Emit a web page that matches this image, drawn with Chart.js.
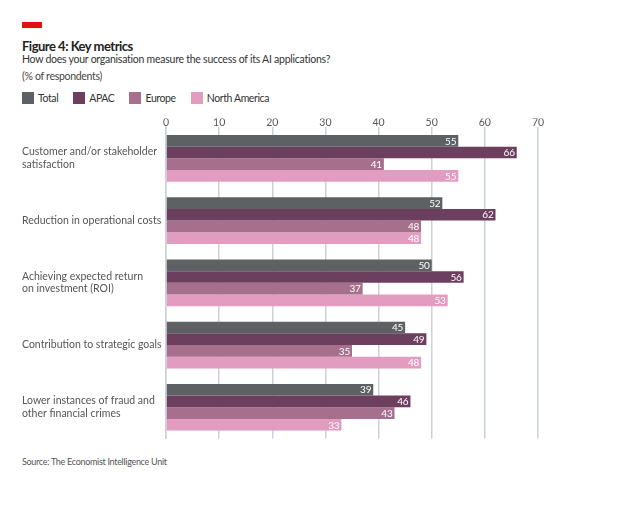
<!DOCTYPE html>
<html>
<head>
<meta charset="utf-8">
<script src="https://cdn.jsdelivr.net/npm/chart.js@4"></script>
<style>
  body { margin: 0; background: #fff; font-family: Lato, "Open Sans", sans-serif; color: #333; }
  #page { position: relative; width: 632px; height: 505px; }
  .redbar { position: absolute; left: 22px; top: 22px; width: 20px; height: 6px; background: #e3120b; }
  .title { position: absolute; left: 22px; top: 38px; font-size: 13px; font-weight: bold; color: #222; letter-spacing: -0.5px; }
  .sub { position: absolute; left: 22px; top: 53px; font-size: 10.5px; color: #333; letter-spacing: -0.25px; }
  .unit { position: absolute; left: 22px; top: 70px; font-size: 10.5px; color: #444; letter-spacing: -0.3px; }
  .legend { position: absolute; left: 22px; top: 92px; font-size: 10.5px; color: #333; display: flex; letter-spacing: -0.4px; }
  .legend span { display: flex; align-items: center; margin-right: 15px; }
  .legend i { display: inline-block; width: 12px; height: 12px; margin-right: 4px; }
  .source { position: absolute; left: 22px; top: 456px; font-size: 9px; color: #555; letter-spacing: -0.3px; }
  #wrap { position: absolute; left: 0; top: 110px; width: 632px; height: 344px; }
</style>
</head>
<body>
<div id="page">
  <div class="redbar"></div>
  <div class="title">Figure 4: Key metrics</div>
  <div class="sub">How does your organisation measure the success of its AI applications?</div>
  <div class="unit">(% of respondents)</div>
  <div class="legend" id="legend"></div>
  <div id="wrap"><canvas id="chart"></canvas></div>
  <div class="source">Source: The Economist Intelligence Unit</div>
</div>
<script>
// data
var categories = [
  ["Customer and/or stakeholder", "satisfaction"],
  "Reduction in operational costs",
  ["Achieving expected return", "on investment (ROI)"],
  "Contribution to strategic goals",
  ["Lower instances of fraud and", "other financial crimes"]
];
var seriesNames = ["Total", "APAC", "Europe", "North America"];
var total = [55, 52, 50, 45, 39];
var apac = [66, 62, 56, 49, 46];
var europe = [41, 48, 37, 35, 43];
var northAmerica = [55, 48, 53, 48, 33];
var xTicks = [0, 10, 20, 30, 40, 50, 60, 70];

var colors = ["#5d6163", "#6d3f5e", "#a6708c", "#e29cc0"];
var allValues = [total, apac, europe, northAmerica];
var fontFamily = "Lato, 'Open Sans', sans-serif";

// html legend
var legendHtml = "";
seriesNames.forEach(function(name, i) {
  legendHtml += '<span><i style="background:' + colors[i] + '"></i>' + name + '</span>';
});
document.getElementById("legend").innerHTML = legendHtml;

// tighter letters on the canvas, the original font is narrow
var tightText = {
  id: "tightText",
  beforeInit: function(chart) { chart.ctx.letterSpacing = "-0.5px"; }
};

// white value labels at the end of each bar
var barLabels = {
  id: "barLabels",
  afterDatasetsDraw: function(chart) {
    var ctx = chart.ctx;
    ctx.save();
    ctx.letterSpacing = "-0.2px";
    ctx.font = "10px " + fontFamily;
    ctx.fillStyle = "#ffffff";
    ctx.textAlign = "right";
    ctx.textBaseline = "middle";
    chart.data.datasets.forEach(function(ds, i) {
      chart.getDatasetMeta(i).data.forEach(function(bar, j) {
        ctx.fillText(ds.data[j], bar.x - 2, bar.y + 0.5);
      });
    });
    ctx.restore();
  }
};

new Chart("chart", {
  type: "bar",
  data: {
    labels: categories,
    datasets: seriesNames.map(function(name, i) {
      return {
        label: name,
        data: allValues[i],
        backgroundColor: colors[i],
        barPercentage: 1,
        categoryPercentage: 0.75
      };
    })
  },
  options: {
    indexAxis: "y",
    responsive: true,
    maintainAspectRatio: false,
    animation: false,
    layout: { padding: { left: 22, right: 94, top: 8.6, bottom: 0 } },
    plugins: {
      legend: { display: false },
      tooltip: { enabled: false }
    },
    scales: {
      x: {
        position: "top",
        min: 0,
        max: 70,
        afterBuildTicks: function(scale) {
          scale.ticks = xTicks.map(function(v) { return { value: v }; });
        },
        grid: { color: "#c9d2da", lineWidth: 1.5, drawTicks: false },
        border: { display: false },
        ticks: { color: "#555", padding: -2, font: { size: 10.5, family: fontFamily } }
      },
      y: {
        afterFit: function(scale) { scale.width = 144; },
        grid: { display: false },
        border: { color: "#c9d2da", width: 1.5 },
        ticks: {
          crossAlign: "far",
          color: "#555",
          font: { size: 10.5, family: fontFamily, lineHeight: 1.2 }
        }
      }
    }
  },
  plugins: [tightText, barLabels]
});
</script>
</body>
</html>
